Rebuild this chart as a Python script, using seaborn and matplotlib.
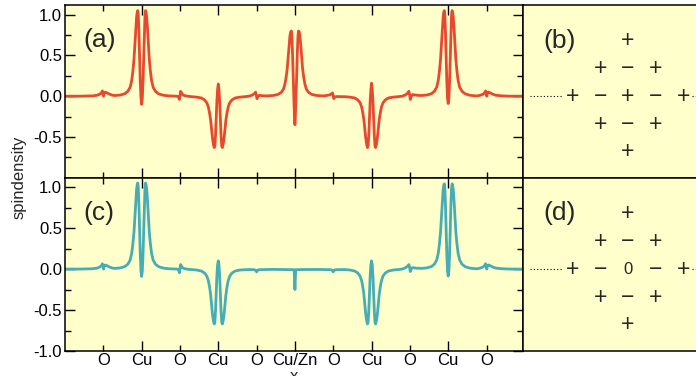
import numpy as np
import pandas as pd
import matplotlib
matplotlib.use("Agg")
import matplotlib.pyplot as plt
import seaborn as sns

# ---------------- data ----------------
# spin density along x, panel (a): Cu/Zn site occupied by Cu
x_a = [0.00, 0.20, 0.36, 0.42, 0.455, 0.475, 0.488, 0.496, 0.503, 0.512, 0.525, 0.55, 0.58, 0.62,
       0.65, 0.72, 0.78, 0.82, 0.85, 0.87, 0.885, 0.90, 0.912, 0.924, 0.934, 0.942, 0.949, 0.956, 0.964, 0.973, 0.982, 0.991,
       1.000,
       1.009, 1.018, 1.027, 1.036, 1.044, 1.051, 1.058, 1.066, 1.076, 1.088, 1.10, 1.115, 1.13, 1.15, 1.18, 1.22, 1.28, 1.35,
       1.42, 1.46, 1.482, 1.493, 1.500, 1.508, 1.518, 1.535, 1.56, 1.60,
       1.65, 1.72, 1.78, 1.82, 1.85, 1.87, 1.885, 1.90, 1.912, 1.924, 1.936, 1.947, 1.955, 1.964, 1.973, 1.982, 1.991,
       2.000,
       2.009, 2.018, 2.027, 2.036, 2.045, 2.053, 2.064, 2.076, 2.088, 2.10, 2.115, 2.13, 2.15, 2.18, 2.22, 2.28, 2.35,
       2.40, 2.44, 2.47, 2.487, 2.497, 2.505, 2.515, 2.535, 2.57, 2.61,
       2.65, 2.72, 2.78, 2.82, 2.85, 2.87, 2.885, 2.90, 2.912, 2.924, 2.935, 2.945, 2.953, 2.960, 2.969, 2.978, 2.988, 2.995,
       3.000,
       3.005, 3.012, 3.022, 3.031, 3.040, 3.047, 3.055, 3.065, 3.076, 3.088, 3.10, 3.115, 3.13, 3.15, 3.18, 3.22, 3.28, 3.35,
       3.40, 3.45, 3.475, 3.49, 3.50, 3.508, 3.52, 3.55, 3.60,
       3.65, 3.72, 3.78, 3.82, 3.85, 3.87, 3.885, 3.90, 3.912, 3.924, 3.936, 3.947, 3.955, 3.964, 3.973, 3.982, 3.991,
       4.000,
       4.009, 4.018, 4.027, 4.036, 4.045, 4.053, 4.064, 4.076, 4.088, 4.10, 4.115, 4.13, 4.15, 4.18, 4.22, 4.28, 4.35,
       4.40, 4.44, 4.47, 4.487, 4.497, 4.505, 4.515, 4.535, 4.57, 4.61,
       4.65, 4.72, 4.78, 4.82, 4.85, 4.87, 4.885, 4.90, 4.912, 4.924, 4.934, 4.942, 4.949, 4.956, 4.964, 4.973, 4.982, 4.991,
       5.000,
       5.009, 5.018, 5.027, 5.036, 5.044, 5.051, 5.058, 5.066, 5.076, 5.088, 5.10, 5.115, 5.13, 5.15, 5.18, 5.22, 5.28, 5.35,
       5.38, 5.42, 5.455, 5.475, 5.488, 5.496, 5.503, 5.512, 5.525, 5.55, 5.58, 5.62, 5.70, 5.80, 5.98]
y_a = [0.0, 0.0, 0.004, 0.012, 0.025, 0.042, 0.065, 0.04, 0.0, 0.035, 0.05, 0.04, 0.025, 0.012,
       0.008, 0.014, 0.03, 0.06, 0.11, 0.19, 0.30, 0.45, 0.64, 0.84, 0.97, 1.03, 1.05, 1.00, 0.80, 0.48, 0.18, -0.02,
       -0.10,
       -0.02, 0.18, 0.48, 0.80, 1.00, 1.05, 1.03, 0.97, 0.84, 0.64, 0.45, 0.30, 0.19, 0.11, 0.06, 0.03, 0.012, 0.004,
       0.002, 0.0, -0.01, -0.04, 0.0, 0.06, 0.045, 0.02, 0.006, 0.0,
       -0.006, -0.012, -0.022, -0.045, -0.08, -0.13, -0.20, -0.29, -0.40, -0.51, -0.59, -0.63, -0.61, -0.48, -0.28, -0.06, 0.08,
       0.15,
       0.08, -0.06, -0.28, -0.48, -0.61, -0.63, -0.59, -0.51, -0.40, -0.29, -0.20, -0.13, -0.08, -0.045, -0.022, -0.012, -0.006,
       0.0, 0.012, 0.03, 0.05, 0.015, -0.03, -0.005, 0.01, 0.006, 0.004,
       0.004, 0.009, 0.022, 0.045, 0.085, 0.15, 0.23, 0.34, 0.48, 0.63, 0.74, 0.79, 0.80, 0.74, 0.52, 0.22, -0.08, -0.27,
       -0.35,
       -0.27, -0.08, 0.22, 0.52, 0.74, 0.80, 0.79, 0.74, 0.63, 0.48, 0.34, 0.23, 0.15, 0.085, 0.045, 0.022, 0.009, 0.004,
       0.006, 0.015, 0.028, 0.04, 0.0, -0.03, -0.01, -0.004, -0.006,
       -0.006, -0.012, -0.022, -0.045, -0.08, -0.13, -0.20, -0.29, -0.40, -0.51, -0.59, -0.63, -0.61, -0.48, -0.28, -0.06, 0.08,
       0.16,
       0.08, -0.06, -0.28, -0.48, -0.61, -0.63, -0.59, -0.51, -0.40, -0.29, -0.20, -0.13, -0.08, -0.045, -0.022, -0.012, -0.006,
       0.0, 0.015, 0.035, 0.06, 0.02, -0.04, -0.005, 0.02, 0.014, 0.01,
       0.008, 0.014, 0.03, 0.06, 0.11, 0.19, 0.30, 0.45, 0.64, 0.84, 0.97, 1.03, 1.05, 1.00, 0.80, 0.48, 0.18, -0.02,
       -0.09,
       -0.02, 0.18, 0.48, 0.80, 1.00, 1.05, 1.03, 0.97, 0.84, 0.64, 0.45, 0.30, 0.19, 0.11, 0.06, 0.03, 0.012, 0.004,
       0.004, 0.012, 0.025, 0.042, 0.065, 0.04, 0.0, 0.035, 0.05, 0.04, 0.025, 0.012, 0.004, 0.0, 0.0]

# panel (c): Cu/Zn site occupied by Zn
x_c = [0.00, 0.20, 0.36, 0.42, 0.455, 0.475, 0.488, 0.496, 0.503, 0.512, 0.525, 0.55, 0.58, 0.62,
       0.65, 0.72, 0.78, 0.82, 0.85, 0.87, 0.885, 0.90, 0.912, 0.924, 0.934, 0.942, 0.949, 0.956, 0.964, 0.973, 0.982, 0.991,
       1.000,
       1.009, 1.018, 1.027, 1.036, 1.044, 1.051, 1.058, 1.066, 1.076, 1.088, 1.10, 1.115, 1.13, 1.15, 1.18, 1.22, 1.28, 1.35,
       1.42, 1.46, 1.482, 1.493, 1.500, 1.508, 1.518, 1.535, 1.56, 1.60,
       1.65, 1.72, 1.78, 1.82, 1.85, 1.87, 1.885, 1.90, 1.912, 1.924, 1.936, 1.947, 1.955, 1.964, 1.973, 1.982, 1.991,
       2.000,
       2.009, 2.018, 2.027, 2.036, 2.045, 2.053, 2.064, 2.076, 2.088, 2.10, 2.115, 2.13, 2.15, 2.18, 2.22, 2.28, 2.35,
       2.42, 2.47, 2.488, 2.50, 2.512, 2.53, 2.70, 2.90, 2.99, 2.995,
       3.000,
       3.005, 3.01, 3.10, 3.30, 3.47, 3.488, 3.50, 3.512, 3.53,
       3.65, 3.72, 3.78, 3.82, 3.85, 3.87, 3.885, 3.90, 3.912, 3.924, 3.936, 3.947, 3.955, 3.964, 3.973, 3.982, 3.991,
       4.000,
       4.009, 4.018, 4.027, 4.036, 4.045, 4.053, 4.064, 4.076, 4.088, 4.10, 4.115, 4.13, 4.15, 4.18, 4.22, 4.28, 4.35,
       4.40, 4.44, 4.47, 4.487, 4.497, 4.505, 4.515, 4.535, 4.57, 4.61,
       4.65, 4.72, 4.78, 4.82, 4.85, 4.87, 4.885, 4.90, 4.912, 4.924, 4.934, 4.942, 4.949, 4.956, 4.964, 4.973, 4.982, 4.991,
       5.000,
       5.009, 5.018, 5.027, 5.036, 5.044, 5.051, 5.058, 5.066, 5.076, 5.088, 5.10, 5.115, 5.13, 5.15, 5.18, 5.22, 5.28, 5.35,
       5.38, 5.42, 5.455, 5.475, 5.488, 5.496, 5.503, 5.512, 5.525, 5.55, 5.58, 5.62, 5.70, 5.80, 5.98]
y_c = [0.0, 0.0, 0.004, 0.012, 0.025, 0.042, 0.065, 0.04, 0.0, 0.035, 0.05, 0.04, 0.025, 0.012,
       0.008, 0.014, 0.03, 0.06, 0.11, 0.19, 0.30, 0.45, 0.64, 0.84, 0.97, 1.03, 1.05, 1.00, 0.80, 0.48, 0.18, -0.02,
       -0.09,
       -0.02, 0.18, 0.48, 0.80, 1.00, 1.05, 1.03, 0.97, 0.84, 0.64, 0.45, 0.30, 0.19, 0.11, 0.06, 0.03, 0.012, 0.004,
       0.002, 0.0, -0.01, -0.045, 0.0, 0.055, 0.04, 0.015, 0.004, -0.002,
       -0.006, -0.012, -0.024, -0.048, -0.085, -0.14, -0.21, -0.31, -0.43, -0.55, -0.63, -0.67, -0.65, -0.51, -0.30, -0.08, 0.05,
       0.10,
       0.05, -0.08, -0.30, -0.51, -0.65, -0.67, -0.63, -0.55, -0.43, -0.31, -0.21, -0.14, -0.085, -0.048, -0.024, -0.012, -0.008,
       -0.006, -0.008, -0.015, -0.035, -0.015, -0.008, -0.004, -0.006, -0.008, -0.12,
       -0.25,
       -0.12, -0.008, -0.006, -0.005, -0.008, -0.015, -0.035, -0.015, -0.008,
       -0.006, -0.012, -0.024, -0.048, -0.085, -0.14, -0.21, -0.31, -0.43, -0.55, -0.63, -0.67, -0.65, -0.51, -0.30, -0.08, 0.05,
       0.10,
       0.05, -0.08, -0.30, -0.51, -0.65, -0.67, -0.63, -0.55, -0.43, -0.31, -0.21, -0.14, -0.085, -0.048, -0.024, -0.012, -0.006,
       0.0, 0.015, 0.035, 0.055, 0.02, -0.03, -0.005, 0.018, 0.012, 0.01,
       0.008, 0.014, 0.03, 0.06, 0.11, 0.19, 0.30, 0.45, 0.64, 0.84, 0.97, 1.02, 1.04, 0.99, 0.80, 0.48, 0.18, -0.02,
       -0.085,
       -0.02, 0.18, 0.48, 0.80, 0.99, 1.04, 1.02, 0.97, 0.84, 0.64, 0.45, 0.30, 0.19, 0.11, 0.06, 0.03, 0.012, 0.004,
       0.004, 0.012, 0.025, 0.042, 0.065, 0.04, 0.0, 0.035, 0.05, 0.04, 0.025, 0.012, 0.004, 0.0, 0.0]

cu_pos = [1, 2, 3, 4, 5]
cu_labels = ["Cu", "Cu", "Cu/Zn", "Cu", "Cu"]
o_pos = [0.5, 1.5, 2.5, 3.5, 4.5, 5.5]
o_labels = ["O", "O", "O", "O", "O", "O"]
yticks_top = [-0.5, 0.0, 0.5, 1.0]
ylabels_top = ["-0.5", "0.0", "0.5", "1.0"]
yticks_bot = [-1.0, -0.5, 0.0, 0.5, 1.0]
ylabels_bot = ["-1.0", "-0.5", "0.0", "0.5", "1.0"]
yminor = [-0.75, -0.25, 0.25, 0.75]

lattice_b = [["+"], ["+", "\u2212", "+"], ["+", "\u2212", "+", "\u2212", "+"], ["+", "\u2212", "+"], ["+"]]
lattice_d = [["+"], ["+", "\u2212", "+"], ["+", "\u2212", "0", "\u2212", "+"], ["+", "\u2212", "+"], ["+"]]

panel_labels = ["(a)", "(b)", "(c)", "(d)"]

# ---------------- style ----------------
sns.set_style("ticks")
plt.rcParams["font.family"] = ["Liberation Sans", "DejaVu Sans"]
plt.rcParams["axes.unicode_minus"] = False

BG = "#ffffcc"
RED = "#e8482f"
TEAL = "#46adb6"

fig = plt.figure(figsize=(6.96, 3.76), dpi=100)
W, H = 696.0, 376.0
L, R = 65.0, 523.3
T1, M, B2 = 5.3, 177.7, 351.0

ax_a = fig.add_axes([L / W, 1 - M / H, (R - L) / W, (M - T1) / H])
ax_c = fig.add_axes([L / W, 1 - B2 / H, (R - L) / W, (B2 - M) / H])
ax_b = fig.add_axes([R / W, 1 - M / H, 240 / W, (M - T1) / H])
ax_d = fig.add_axes([R / W, 1 - B2 / H, 240 / W, (B2 - M) / H])

df_a = pd.DataFrame({"x": x_a, "y": y_a})
df_c = pd.DataFrame({"x": x_c, "y": y_c})
sns.lineplot(data=df_a, x="x", y="y", ax=ax_a, color=RED, lw=2.0, estimator=None, sort=False)
sns.lineplot(data=df_c, x="x", y="y", ax=ax_c, color=TEAL, lw=2.0, estimator=None, sort=False)

for ax, yt, yl in [(ax_a, yticks_top, ylabels_top), (ax_c, yticks_bot, ylabels_bot)]:
    ax.set_facecolor(BG)
    ax.set_xlim(0, 5.98)
    ax.set_ylim(-1.0, 1.115)
    ax.set_xticks(cu_pos)
    ax.set_xticks(o_pos, minor=True)
    ax.set_yticks(yt)
    ax.set_yticklabels(yl)
    ax.set_yticks(yminor, minor=True)
    ax.tick_params(axis="both", which="both", direction="in", top=True, right=True,
                   width=1.0, colors="black", labelsize=12, pad=2)
    ax.tick_params(axis="both", which="major", length=7.5)
    ax.tick_params(axis="both", which="minor", length=4)
    ax.set_ylabel("")
    for s in ax.spines.values():
        s.set_linewidth(1.1)
        s.set_color("black")

ax_a.set_xticklabels([])
ax_a.set_xticklabels([], minor=True)
ax_a.set_xlabel("")
ax_c.set_xticklabels(cu_labels)
ax_c.set_xticklabels(o_labels, minor=True)
ax_c.tick_params(axis="x", which="both", pad=1.5)
ax_c.set_xlabel("x", fontsize=12, labelpad=1)

fig.text(19 / W, 1 - 177.5 / H, "spindensity", rotation=90, ha="center", va="center", fontsize=12)

ax_a.text(0.041, 0.80, panel_labels[0], transform=ax_a.transAxes, fontsize=19, ha="left", va="center")
ax_c.text(0.041, 0.795, panel_labels[2], transform=ax_c.transAxes, fontsize=19, ha="left", va="center")

unit = 27.7
for ax, lat, lab in [(ax_b, lattice_b, panel_labels[1]), (ax_d, lattice_d, panel_labels[3])]:
    ax.set_facecolor(BG)
    ax.set_xlim((R - 628) / unit, (R + 240 - 628) / unit)
    ax.set_ylim(-(M - 96.3) / unit, (96.3 - T1) / unit)
    ax.set_xticks([])
    ax.set_yticks([])
    for s in ax.spines.values():
        s.set_linewidth(1.1)
        s.set_color("black")
    n_rows = len(lat)
    for r, row in enumerate(lat):
        yy = (n_rows - 1) / 2 - r
        for k, sgn in enumerate(row):
            xx = k - (len(row) - 1) / 2
            fs = 12 if sgn == "0" else 16.5
            ax.text(xx, yy, sgn, ha="center", va="center", fontsize=fs)
    ax.plot([-3.53, -2.38], [0, 0], color="black", lw=0.8, ls=(0, (1, 2)))
    ax.plot([2.3, 4.8], [0, 0], color="black", lw=0.8, ls=(0, (1, 2)))
    ax.text((543 - 628) / unit, 2.0, lab, fontsize=19, ha="left", va="center")

fig.savefig("out.png", dpi=100, facecolor="white")
